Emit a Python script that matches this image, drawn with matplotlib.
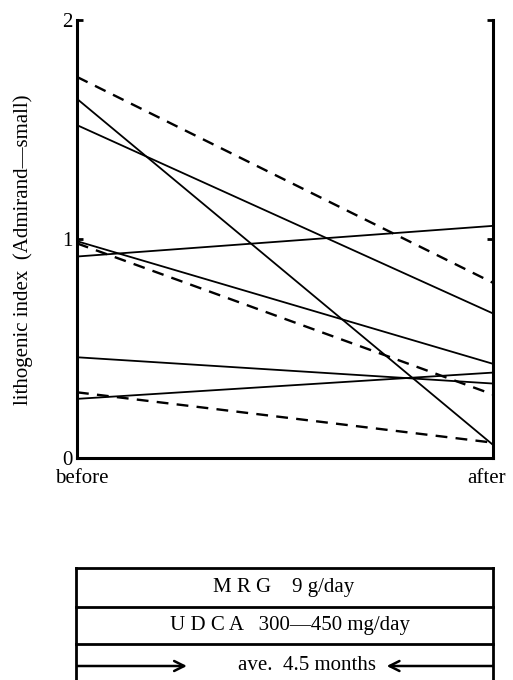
import matplotlib.pyplot as plt
from matplotlib.patches import FancyArrowPatch

plt.rcParams['font.family'] = ['Liberation Serif', 'DejaVu Serif']

# lithogenic index per patient, before and after treatment
before = [1.74, 1.64, 1.52, 0.92, 0.99, 0.98, 0.46, 0.27, 0.30]
after = [0.80, 0.06, 0.66, 1.06, 0.43, 0.29, 0.34, 0.39, 0.07]
dashed = [True, False, False, False, False, True, False, False, True]

time_labels = ['before', 'after']
y_ticks = [0, 1, 2]

table_rows = ['M R G    9 g/day', 'U D C A   300\u2014450 mg/day', 'ave.  4.5 months']

########

fig = plt.figure(figsize=(5.13, 6.8), dpi=100)
ax = fig.add_axes([77/513, 1 - 458/680, 416/513, 438/680])

for b, a, d in zip(before, after, dashed):
    if d:
        ax.plot([0, 1], [b, a], color='black', lw=1.7, ls=(0, (5, 3.5)))
    else:
        ax.plot([0, 1], [b, a], color='black', lw=1.3)

ax.set_xlim(0, 1)
ax.set_ylim(0, 2)
ax.spines['top'].set_visible(False)
for s in ['left', 'right', 'bottom']:
    ax.spines[s].set_linewidth(2.2)
ax.set_xticks([])
ax.set_yticks(y_ticks)
ax.set_yticklabels([str(t) for t in y_ticks], fontsize=15)
ax.tick_params(axis='y', direction='in', length=4, width=2, right=True, pad=3)
ax.text(0.012, -0.025, time_labels[0], transform=ax.transAxes, ha='center', va='top', fontsize=15)
ax.text(0.985, -0.025, time_labels[1], transform=ax.transAxes, ha='center', va='top', fontsize=15)
fig.text(23/513, 1 - 250/680, 'lithogenic index  (Admirand\u2014small)', rotation=90,
         ha='center', va='center', fontsize=15)

# treatment table below
tb = fig.add_axes([76/513, 0, 417/513, 112/680])
tb.set_xlim(0, 1)
tb.set_ylim(0, 1)
tb.axis('off')
for yy in [1, 0.652, 0.321]:
    tb.plot([0, 1], [yy, yy], color='black', lw=2, clip_on=False)
tb.plot([0, 0], [0, 1], color='black', lw=2, clip_on=False)
tb.plot([1, 1], [0, 1], color='black', lw=2, clip_on=False)

tb.text(0.499, 0.83, table_rows[0], ha='center', va='center', fontsize=15)
tb.text(0.513, 0.49, table_rows[1], ha='center', va='center', fontsize=15)
tb.text(0.553, 0.125, table_rows[2], ha='center', va='center', fontsize=15)

tb.add_patch(FancyArrowPatch((0, 0.125), (0.266, 0.125), arrowstyle='->', mutation_scale=18,
                             lw=1.8, color='black', shrinkA=0, shrinkB=0))
tb.add_patch(FancyArrowPatch((1, 0.125), (0.745, 0.125), arrowstyle='->', mutation_scale=18,
                             lw=1.8, color='black', shrinkA=0, shrinkB=0))

plt.savefig('out.png', dpi=100)
